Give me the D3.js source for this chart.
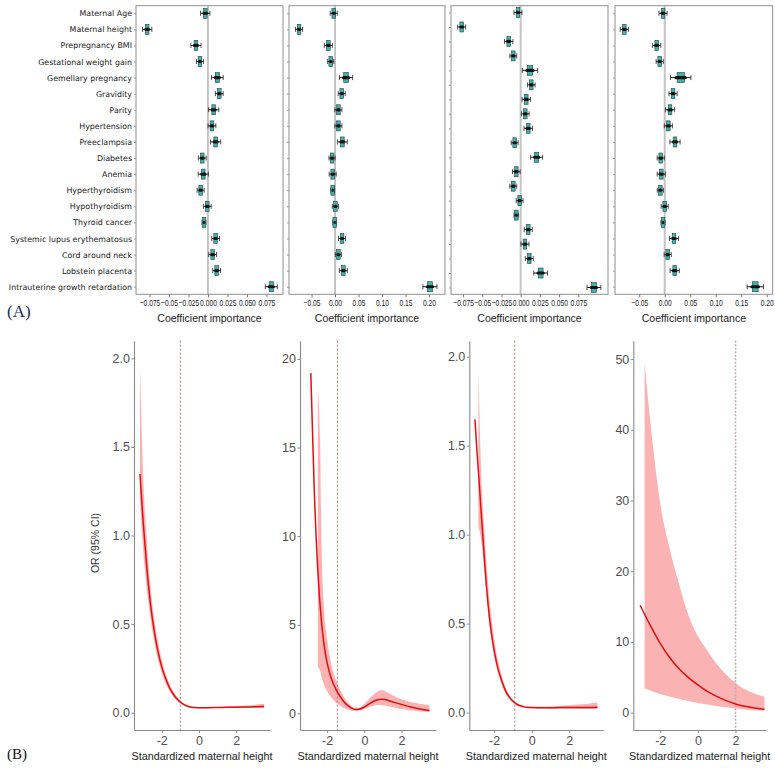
<!DOCTYPE html>
<html>
<head>
<meta charset="utf-8">
<script src="https://cdn.jsdelivr.net/npm/d3@7"></script>
<style>
  body { margin: 0; background: #fff; }
  svg { display: block; }
</style>
</head>
<body>
<svg id="chart" width="775" height="768"></svg>
<script>
// ---------- Panel A: coefficient importance (median and whisker half-range) ----------
var features = ["Maternal Age", "Maternal height", "Prepregnancy BMI", "Gestational weight gain",
  "Gemellary pregnancy", "Gravidity", "Parity", "Hypertension", "Preeclampsia", "Diabetes",
  "Anemia", "Hyperthyroidism", "Hypothyroidism", "Thyroid cancer", "Systemic lupus erythematosus",
  "Cord around neck", "Lobstein placenta", "Intrauterine growth retardation"]

var coefA1 = [-0.0035, -0.078, -0.0154, -0.0103, 0.012, 0.0145, 0.0073, 0.0051, 0.0098, -0.0073,
  -0.006, -0.0094, -0.0009, -0.0051, 0.0098, 0.006, 0.0111, 0.0812]
var spreadA1 = [0.006, 0.006, 0.0065, 0.0045, 0.0075, 0.005, 0.0065, 0.005, 0.0065, 0.005,
  0.0065, 0.0045, 0.005, 0.0025, 0.005, 0.005, 0.005, 0.0077]

var coefA2 = [-0.0028, -0.0766, -0.0142, -0.0092, 0.0234, 0.0142, 0.0071, 0.0071, 0.0156, -0.0064,
  -0.005, -0.005, 0.0007, -0.0007, 0.0149, 0.0071, 0.0177, 0.202]
var spreadA2 = [0.0075, 0.0075, 0.0085, 0.0065, 0.014, 0.0075, 0.0075, 0.0075, 0.0105, 0.0065,
  0.0075, 0.004, 0.0065, 0.004, 0.0075, 0.0065, 0.0085, 0.015]

// third model has 20 predictors (no row labels shown)
var coefA3 = [-0.0035, -0.0768, -0.0156, -0.0096, 0.0121, 0.0138, 0.0073, 0.006, 0.0099, -0.0078,
  0.0208, -0.0057, -0.0096, -0.0013, -0.0057, 0.0099, 0.0056, 0.0112, 0.026, 0.0954]
var spreadA3 = [0.0052, 0.0052, 0.0055, 0.0045, 0.01, 0.005, 0.0055, 0.005, 0.0055, 0.0045,
  0.0078, 0.005, 0.0045, 0.0045, 0.003, 0.0052, 0.0052, 0.0052, 0.009, 0.009]

var coefA4 = [-0.0033, -0.0792, -0.0157, -0.0098, 0.0314, 0.0163, 0.0104, 0.0071, 0.0202, -0.0078,
  -0.0067, -0.0086, 0, -0.0033, 0.0182, 0.0059, 0.0196, 0.1776]
var spreadA4 = [0.008, 0.008, 0.008, 0.007, 0.02, 0.008, 0.009, 0.008, 0.01, 0.007,
  0.008, 0.006, 0.007, 0.004, 0.009, 0.007, 0.009, 0.016]

var ticksSmall = [-0.075, -0.05, -0.025, 0, 0.025, 0.05, 0.075]
var tickLabelsSmall = ["\u22120.075", "\u22120.05", "\u22120.025", "0.000", "0.025", "0.050", "0.075"]
var ticksLarge = [-0.05, 0, 0.05, 0.1, 0.15, 0.2]
var tickLabelsLarge = ["\u22120.05", "0.00", "0.05", "0.10", "0.15", "0.20"]

// ---------- Panel B: OR (95% CI) vs standardized maternal height ----------
var b1X = [-3.17, -3.0, -2.8, -2.6, -2.4, -2.2, -2.0, -1.8, -1.6, -1.4, -1.2, -1.0, -0.8, -0.6, -0.4, -0.2, 0, 0.5, 1, 1.5, 2, 2.5, 3, 3.5]
var b1OR = [1.347, 1.08, 0.82, 0.61, 0.46, 0.345, 0.26, 0.195, 0.145, 0.108, 0.08, 0.06, 0.045, 0.036, 0.031, 0.029, 0.028, 0.028, 0.029, 0.03, 0.031, 0.032, 0.033, 0.035]
var b1BandX = b1X
var b1Hi = [1.97, 1.35, 0.97, 0.71, 0.53, 0.40, 0.30, 0.225, 0.168, 0.125, 0.093, 0.069, 0.052, 0.041, 0.035, 0.032, 0.031, 0.031, 0.032, 0.034, 0.037, 0.040, 0.044, 0.050]
var b1Lo = [1.2, 0.92, 0.70, 0.53, 0.40, 0.30, 0.225, 0.168, 0.125, 0.093, 0.069, 0.052, 0.039, 0.031, 0.027, 0.025, 0.025, 0.025, 0.026, 0.027, 0.027, 0.027, 0.026, 0.025]

var b2X = [-2.88, -2.7, -2.5, -2.3, -2.1, -1.9, -1.7, -1.5, -1.3, -1.1, -0.9, -0.7, -0.5, -0.3, -0.1, 0.1, 0.3, 0.5, 0.7, 0.9, 1.1, 1.3, 1.6, 2.0, 2.5, 3.0, 3.5]
var b2OR = [19.2, 12.8, 8.0, 5.1, 3.4, 2.4, 1.75, 1.3, 0.95, 0.65, 0.45, 0.3, 0.22, 0.23, 0.3, 0.42, 0.56, 0.68, 0.77, 0.8, 0.78, 0.72, 0.62, 0.5, 0.36, 0.25, 0.16]
var b2BandX = [-2.5, -2.38, -2.3, -2.2, -2.0, -1.8, -1.6, -1.4, -1.2, -1.0, -0.8, -0.6, -0.4, -0.2, 0, 0.2, 0.4, 0.6, 0.8, 1.0, 1.2, 1.5, 2.0, 2.5, 3.0, 3.5]
var b2Hi = [18.3, 15.5, 9.5, 6.5, 4.2, 2.9, 2.1, 1.55, 1.1, 0.75, 0.5, 0.35, 0.3, 0.36, 0.52, 0.75, 0.98, 1.15, 1.28, 1.3, 1.2, 1.02, 0.8, 0.64, 0.54, 0.47]
var b2Lo = [2.6, 2.4, 2.05, 1.7, 1.25, 0.92, 0.68, 0.5, 0.36, 0.26, 0.19, 0.15, 0.14, 0.18, 0.25, 0.33, 0.4, 0.45, 0.47, 0.46, 0.42, 0.35, 0.25, 0.16, 0.11, 0.08]

var b3X = [-3.02, -2.9, -2.8, -2.6, -2.4, -2.2, -2.0, -1.8, -1.6, -1.4, -1.2, -1.0, -0.8, -0.6, -0.4, -0.2, 0, 0.5, 1, 1.5, 2, 2.5, 3, 3.5]
var b3OR = [1.648, 1.45, 1.3, 0.99, 0.7, 0.49, 0.35, 0.25, 0.18, 0.125, 0.088, 0.065, 0.048, 0.038, 0.032, 0.029, 0.028, 0.027, 0.027, 0.028, 0.028, 0.029, 0.029, 0.03]
var b3BandX = [-2.84, -2.7, -2.5, -2.3, -2.1, -1.9, -1.7, -1.5, -1.3, -1.1, -0.9, -0.7, -0.5, -0.3, 0, 0.5, 1, 1.5, 2, 2.5, 3, 3.5]
var b3Hi = [1.93, 1.38, 1.0, 0.7, 0.5, 0.35, 0.25, 0.175, 0.12, 0.085, 0.062, 0.047, 0.038, 0.034, 0.032, 0.032, 0.034, 0.037, 0.041, 0.045, 0.05, 0.056]
var b3Lo = [1.05, 0.98, 0.78, 0.55, 0.38, 0.27, 0.19, 0.13, 0.09, 0.063, 0.045, 0.034, 0.028, 0.025, 0.024, 0.023, 0.022, 0.021, 0.021, 0.02, 0.02, 0.019]

var b4X = [-3.07, -2.5, -2, -1.5, -1, -0.5, 0, 0.5, 1, 1.5, 2, 2.5, 3, 3.54]
var b4OR = [15.19, 12.2, 9.8, 7.8, 6.2, 4.95, 3.92, 3.0, 2.3, 1.7, 1.23, 0.9, 0.66, 0.48]
var b4BandX = [-2.83, -2.5, -2, -1.5, -1, -0.5, 0, 0.5, 1, 1.5, 2, 2.5, 3, 3.54]
var b4Hi = [49.4, 40.5, 29.6, 23.2, 18.2, 13.8, 10.8, 8.8, 6.9, 5.4, 4.2, 3.3, 2.7, 2.26]
var b4Lo = [3.45, 3.1, 2.65, 2.3, 1.95, 1.65, 1.38, 1.14, 0.93, 0.76, 0.6, 0.46, 0.35, 0.25]

var cutoffs = [-1.0, -1.45, -0.9, 2.0]
var xTicksB = [-2, 0, 2]
var yTicksB1 = [0, 0.5, 1, 1.5, 2]
var yTicksB2 = [0, 5, 10, 15, 20]
var yTicksB4 = [0, 10, 20, 30, 40, 50]


// layout numbers for every panel
var vis = {
  coef: {
    top: 5.7,
    bottom: 294.3,
    teal: "#3fb3ab",
    panels: [
      { x0: 136, x1: 283, domain: [-0.0923, 0.0962], zero: "#8a8a8a", zw: 1 },
      { x0: 289, x1: 445, domain: [-0.098, 0.234], zero: "#8a8a8a", zw: 1 },
      { x0: 451, x1: 608, domain: [-0.0907, 0.1137], zero: "#c4c4c4", zw: 2 },
      { x0: 615, x1: 772.7, domain: [-0.0975, 0.2118], zero: "#c4c4c4", zw: 2 }
    ]
  },
  or: {
    top: 340.7,
    bottom: 730,
    panels: [
      { x0: 134, x1: 270, xdom: [-3.49, 3.82], ydom: [-0.098, 2.1], dash: "#b06a6a", dw: 0.9, da: "2,2" },
      { x0: 300, x1: 436, xdom: [-3.46, 3.85], ydom: [-0.94, 21.03], dash: "#b06a6a", dw: 0.9, da: "2,2" },
      { x0: 469.3, x1: 603.3, xdom: [-3.32, 3.81], ydom: [-0.098, 2.09], dash: "#b06a6a", dw: 0.9, da: "2,2" },
      { x0: 633.3, x1: 766, xdom: [-3.43, 3.62], ydom: [-2.45, 52.6], dash: "#bdaeae", dw: 1.6, da: "2,1.5" }
    ]
  }
}

var svg = d3.select("#chart")

var coefSets = [
  { coef: coefA1, spread: spreadA1, rows: features, ticks: ticksSmall, labels: tickLabelsSmall },
  { coef: coefA2, spread: spreadA2, rows: features, ticks: ticksLarge, labels: tickLabelsLarge },
  { coef: coefA3, spread: spreadA3, rows: d3.range(coefA3.length), ticks: ticksSmall, labels: tickLabelsSmall },
  { coef: coefA4, spread: spreadA4, rows: features, ticks: ticksLarge, labels: tickLabelsLarge }
]

coefSets.forEach(function(set, i) { drawCoefPanel(set, vis.coef.panels[i], i == 0) })

var orSets = [
  { x: b1X, y: b1OR, bx: b1BandX, lo: b1Lo, hi: b1Hi, yTicks: yTicksB1, fmt: d3.format(".1f") },
  { x: b2X, y: b2OR, bx: b2BandX, lo: b2Lo, hi: b2Hi, yTicks: yTicksB2, fmt: d3.format("d") },
  { x: b3X, y: b3OR, bx: b3BandX, lo: b3Lo, hi: b3Hi, yTicks: yTicksB1, fmt: d3.format(".1f") },
  { x: b4X, y: b4OR, bx: b4BandX, lo: b4Lo, hi: b4Hi, yTicks: yTicksB4, fmt: d3.format("d") }
]

orSets.forEach(function(set, i) { drawORPanel(set, vis.or.panels[i], cutoffs[i]) })

// y label and panel letters
svg.append("text")
  .attr("transform", "translate(99,543) rotate(-90)")
  .attr("text-anchor", "middle")
  .style("font", "10.5px 'Liberation Sans', Arial, sans-serif")
  .style("fill", "#333")
  .text("OR (95% CI)")

svg.append("text")
  .attr("x", 7).attr("y", 317)
  .style("font", "17px 'Liberation Serif', 'Times New Roman', serif")
  .style("fill", "#1d2b52")
  .text("(A)")

svg.append("text")
  .attr("x", 7).attr("y", 759)
  .style("font", "15px 'Liberation Serif', 'Times New Roman', serif")
  .style("fill", "#111")
  .text("(B)")


function drawCoefPanel(set, p, showLabels) {
  let top = vis.coef.top
  let bottom = vis.coef.bottom

  let x = d3.scaleLinear().domain(p.domain).range([p.x0, p.x1])
  let y = d3.scalePoint().domain(set.rows).range([top, bottom]).padding(0.47)

  let g = svg.append("g")

  // zero reference line
  g.append("line")
    .attr("x1", x(0)).attr("x2", x(0))
    .attr("y1", top).attr("y2", bottom)
    .style("stroke", p.zero)
    .style("stroke-width", p.zw)

  // one box plot per predictor
  let rows = set.rows.map(function(r, i) {
    return { row: r, v: set.coef[i], s: set.spread[i] }
  })

  let marks = g.selectAll("g.mark")
    .data(rows)
    .enter()
    .append("g")
    .attr("class", "mark")
    .attr("transform", function(d) { return "translate(0," + y(d.row) + ")" })

  marks.append("line")
    .attr("x1", function(d) { return x(d.v - d.s) })
    .attr("x2", function(d) { return x(d.v + d.s) })
    .style("stroke", "#222")
    .style("stroke-width", 1)

  marks.selectAll("line.cap")
    .data(function(d) { return [d.v - d.s, d.v + d.s] })
    .enter()
    .append("line")
    .attr("class", "cap")
    .attr("x1", function(d) { return x(d) })
    .attr("x2", function(d) { return x(d) })
    .attr("y1", -2.5).attr("y2", 2.5)
    .style("stroke", "#222")
    .style("stroke-width", 0.8)

  marks.append("rect")
    .attr("x", function(d) { return Math.min(x(d.v - 0.35 * d.s), x(d.v) - 1.8) })
    .attr("width", function(d) { return Math.max(x(d.v + 0.35 * d.s) - x(d.v - 0.35 * d.s), 3.6) })
    .attr("y", -5)
    .attr("height", 10)
    .style("fill", vis.coef.teal)
    .style("stroke", "#2a3a3a")
    .style("stroke-width", 0.6)

  // dense cloud of points drawn as a dark bar across the box
  marks.append("rect")
    .attr("x", function(d) { return x(d.v - 0.6 * d.s) })
    .attr("width", function(d) { return x(d.v + 0.6 * d.s) - x(d.v - 0.6 * d.s) })
    .attr("y", -1.6)
    .attr("height", 3.2)
    .attr("rx", 1.5)
    .style("fill", "#111")

  // frame
  g.append("rect")
    .attr("x", p.x0).attr("y", top)
    .attr("width", p.x1 - p.x0).attr("height", bottom - top)
    .style("fill", "none")
    .style("stroke", "#8f8f8f")
    .style("stroke-width", 1)

  // axes
  let xAxis = g.append("g")
    .attr("transform", "translate(0," + bottom + ")")
    .call(d3.axisBottom(x)
      .tickValues(set.ticks)
      .tickFormat(function(d, i) { return set.labels[i] })
      .tickSize(3)
      .tickSizeOuter(0))
  xAxis.select(".domain").remove()
  xAxis.selectAll("line").style("stroke", "#777")
  // labels are squeezed horizontally like the narrow font of the figure
  xAxis.selectAll("text")
    .attr("dy", "0.71em")
    .attr("y", 5)
    .attr("transform", "scale(0.72,1)")
    .style("font", "9.3px 'Liberation Sans', Arial, sans-serif")
    .style("fill", "#222")

  let yAxis = g.append("g")
    .attr("transform", "translate(" + p.x0 + ",0)")
    .call(d3.axisLeft(y).tickSize(2).tickSizeOuter(0))
  yAxis.select(".domain").remove()
  yAxis.selectAll("line").style("stroke", "#999")
  if (showLabels) {
    yAxis.selectAll("text")
      .attr("x", -4)
      .style("font", "7.9px 'DejaVu Sans', sans-serif")
      .style("fill", "#222")
  } else {
    yAxis.selectAll("text").remove()
  }

  g.append("text")
    .attr("x", (p.x0 + p.x1) / 2)
    .attr("y", 322)
    .attr("text-anchor", "middle")
    .style("font", "10.5px 'Liberation Sans', Arial, sans-serif")
    .style("fill", "#222")
    .text("Coefficient importance")
}


function drawORPanel(set, p, cut) {
  let top = vis.or.top
  let bottom = vis.or.bottom

  let x = d3.scaleLinear().domain(p.xdom).range([p.x0, p.x1])
  let y = d3.scaleLinear().domain(p.ydom).range([bottom, top])

  let g = svg.append("g")

  let band = set.bx.map(function(d, i) { return { x: d, lo: set.lo[i], hi: set.hi[i] } })
  let pts = set.x.map(function(d, i) { return { x: d, y: set.y[i] } })

  g.append("path")
    .datum(band)
    .attr("d", d3.area()
      .x(function(d) { return x(d.x) })
      .y0(function(d) { return y(d.lo) })
      .y1(function(d) { return y(d.hi) })
      .curve(d3.curveMonotoneX))
    .style("fill", "#f9aaaa")
    .style("opacity", 0.9)

  g.append("line")
    .attr("x1", x(cut)).attr("x2", x(cut))
    .attr("y1", top).attr("y2", bottom)
    .style("stroke", p.dash)
    .style("stroke-width", p.dw)
    .style("stroke-dasharray", p.da)

  g.append("path")
    .datum(pts)
    .attr("d", d3.line()
      .x(function(d) { return x(d.x) })
      .y(function(d) { return y(d.y) })
      .curve(d3.curveMonotoneX))
    .style("fill", "none")
    .style("stroke", "#e01010")
    .style("stroke-width", 1.5)

  let xAxis = g.append("g")
    .attr("transform", "translate(0," + bottom + ")")
    .call(d3.axisBottom(x).tickValues(xTicksB).tickFormat(function(d) { return String(d) }).tickSize(3).tickSizeOuter(0))
  let yAxis = g.append("g")
    .attr("transform", "translate(" + p.x0 + ",0)")
    .call(d3.axisLeft(y).tickValues(set.yTicks).tickFormat(set.fmt).tickSize(2.5).tickSizeOuter(0))

  ;[xAxis, yAxis].forEach(function(a) {
    a.select(".domain").style("stroke", "#8a8a8a").style("stroke-width", 1.1)
    a.selectAll("line").style("stroke", "#8a8a8a")
    a.selectAll("text")
      .style("font", "12.5px 'Liberation Sans', Arial, sans-serif")
      .style("fill", "#505050")
  })
  xAxis.selectAll("text").attr("y", 6)
  yAxis.selectAll("text").attr("x", -4)

  g.append("text")
    .attr("x", (p.x0 + p.x1) / 2)
    .attr("y", 760)
    .attr("text-anchor", "middle")
    .style("font", "10.8px 'Liberation Sans', Arial, sans-serif")
    .style("fill", "#222")
    .text("Standardized maternal height")
}
</script>
</body>
</html>
